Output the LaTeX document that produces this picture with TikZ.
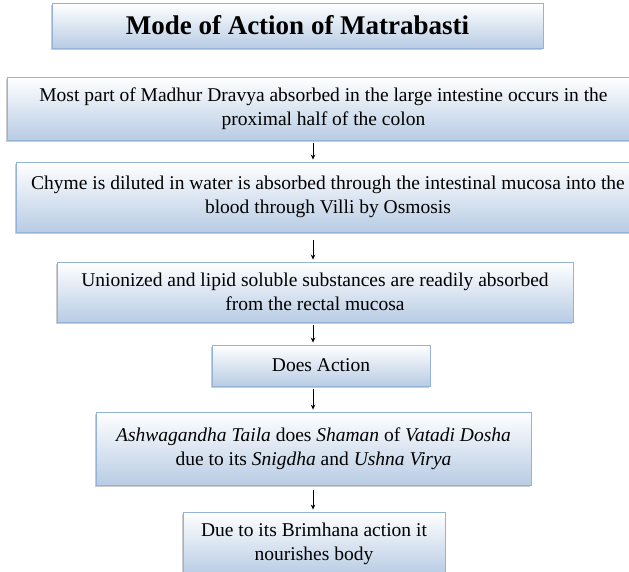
\documentclass[tikz,border=0pt]{standalone}
\usepackage{fontspec}
\setmainfont{Liberation Serif}
\usetikzlibrary{shadows}
\usetikzlibrary{arrows.meta}
\usetikzlibrary{calc,positioning}

\definecolor{boxblue}{RGB}{184,204,228}
\definecolor{boxline}{RGB}{149,179,215}

\tikzset{
    flowbox/.style={draw=boxline, line width=0.9pt, top color=white, bottom color=boxblue,
        drop shadow={shadow xshift=-0.6pt, shadow yshift=-2pt, fill=black!40},
        align=center, inner sep=0pt, font=\fontsize{19.5}{24}\selectfont},
    flowarrow/.style={->, line width=0.7pt, shorten <=3pt, shorten >=2pt}
}

\begin{document}
\begin{tikzpicture}[x=1pt, y=-1pt, >={Stealth[length=5pt,width=4.5pt]}]
    \useasboundingbox[fill=white] (0,0) rectangle (629,571);
    
    \coordinate (axis) at (313,0);
    
    \node[flowbox, minimum width=491, minimum height=45, font=\fontsize{27}{30}\bfseries] (title) at (297.5,25.5) {Mode of Action of Matrabasti};
    
    \node[flowbox, minimum width=633, minimum height=63] (madhur) at (323.5,108.5) {Most part of Madhur Dravya absorbed in the large intestine occurs in the\\ proximal half of the colon};
    
    \node[flowbox, minimum width=624, minimum height=70] (chyme) at (328,197) {Chyme is diluted in water is absorbed through the intestinal mucosa into the\\ blood through Villi by Osmosis};
    
    \node[flowbox, minimum width=516, minimum height=60] (unionized) at (315,292) {Unionized and lipid soluble substances are readily absorbed\\ from the rectal mucosa};
    
    \node[flowbox, minimum width=218, minimum height=41] (action) at (321,365.5) {Does Action};
    
    \node[flowbox, minimum width=435, minimum height=73] (taila) at (313.5,448.5) {\textit{Ashwagandha Taila} does \textit{Shaman} of \textit{Vatadi Dosha}\\ due to its \textit{Snigdha} and \textit{Ushna Virya}};
    
    \node[flowbox, minimum width=262, minimum height=63] (brimhana) at (314,543.5) {Due to its Brimhana action it\\ nourishes body};
    
    \draw[flowarrow] (madhur.south -| axis) -- (chyme.north -| axis);
    
    \draw[flowarrow, shorten <=8pt] (chyme.south -| axis) -- (unionized.north -| axis);
    
    \draw[flowarrow] (unionized.south -| axis) -- (action.north -| axis);
    
    \draw[flowarrow] (action.south -| axis) -- (taila.north -| axis);
    
    \draw[flowarrow, shorten <=5pt] (taila.south -| axis) -- (brimhana.north -| axis);
    
\end{tikzpicture}
\end{document}
